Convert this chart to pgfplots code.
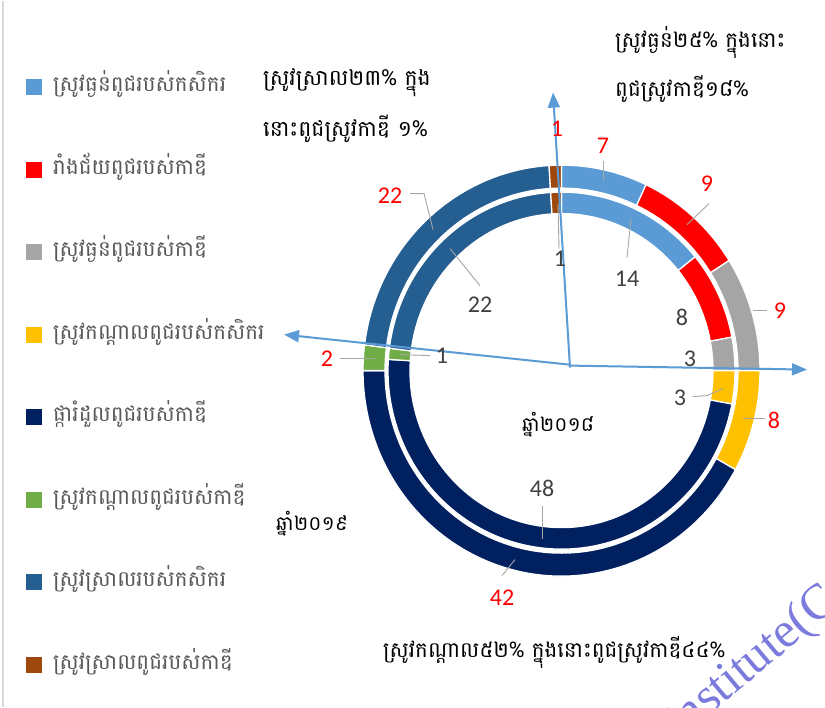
\documentclass[border=0pt]{standalone}
\usepackage{pgfplots}
\pgfplotsset{compat=1.18}
\usepackage{pgfplotstable}
\usepackage{fontspec}
\usetikzlibrary{arrows.meta}
\setmainfont{Carlito}
\newfontfamily\kh[Script=Khmer]{Battambang}
\newfontfamily\wmfont{Liberation Serif}

\definecolor{cA}{HTML}{5B9BD5}
\definecolor{cB}{HTML}{FF0000}
\definecolor{cC}{HTML}{A5A5A5}
\definecolor{cD}{HTML}{FFC000}
\definecolor{cE}{HTML}{002060}
\definecolor{cF}{HTML}{70AD47}
\definecolor{cG}{HTML}{255E91}
\definecolor{cH}{HTML}{9E480E}
\definecolor{arrowblue}{HTML}{5B9BD5}
\definecolor{leadgray}{HTML}{A6A6A6}
\definecolor{lbl}{HTML}{404040}
\definecolor{legtxt}{HTML}{595959}
\definecolor{wm}{RGB}{123,123,222}

% year 2019 (outer ring), percent
\pgfplotstableread{
val col
7 cA
9 cB
9 cC
8 cD
42 cE
2 cF
22 cG
1 cH
}\ringouter
% year 2018 (inner ring), percent
\pgfplotstableread{
val col
14 cA
8 cB
3 cC
3 cD
48 cE
1 cF
22 cG
1 cH
}\ringinner

\def\cx{561.5}
\def\cy{370}

% #1 table, #2 inner x-radius, #3 inner y-radius, #4 outer x-radius, #5 outer y-radius
\newcommand\drawring[5]{%
  \pgfplotstablegetrowsof{#1}%
  \pgfmathtruncatemacro\nrows{\pgfplotsretval-1}%
  \def\cum{0}%
  \pgfplotsforeachungrouped \ri in {0,...,\nrows}{%
    \pgfplotstablegetelem{\ri}{val}\of{#1}\let\segval\pgfplotsretval
    \pgfplotstablegetelem{\ri}{col}\of{#1}\let\segcol\pgfplotsretval
    \pgfmathsetmacro\aS{90-3.6*\cum}%
    \pgfmathsetmacro\aE{90-3.6*(\cum+\segval)}%
    \pgfmathsetmacro\xA{\cx+#4*cos(\aS)}%
    \pgfmathsetmacro\yA{\cy-#5*sin(\aS)}%
    \pgfmathsetmacro\xB{\cx+#2*cos(\aE)}%
    \pgfmathsetmacro\yB{\cy-#3*sin(\aE)}%
    \edef\temp{\noexpand\addplot[fill=\segcol, draw=white, line width=1.3pt, mark=none]
      coordinates {(\xA,\yA)}
      arc[start angle=\aS, end angle=\aE, x radius=#4pt, y radius=#5pt]
      -- (axis cs:\xB,\yB)
      arc[start angle=\aE, end angle=\aS, x radius=#2pt, y radius=#3pt]
      -- cycle;}%
    \temp
    \pgfmathsetmacro\cum{\cum+\segval}%
  }%
}

\newcommand\olab[3]{\node[text=cB, inner sep=0, font=\fontsize{24}{24}\selectfont] at (axis cs:#1,#2) {#3};}
\newcommand\ilab[3]{\node[text=lbl, inner sep=0, font=\fontsize{24}{24}\selectfont] at (axis cs:#1,#2) {#3};}
\newcommand\legitem[3]{%
  \fill[#1] (axis cs:26,#2-8) rectangle (axis cs:42,#2+8);
  \node[anchor=west, inner sep=0, text=legtxt, font=\kh\fontsize{21.5}{24}\selectfont] at (axis cs:53,#2-3) {#3};}

\begin{document}
\begin{tikzpicture}
\begin{axis}[x=1pt, y=1pt, xmin=0, xmax=825, ymin=0, ymax=706,
  y dir=reverse, hide axis, clip=false]
\fill[white] (axis cs:0,0) rectangle (axis cs:825,706);
\draw[gray!30, line width=1.2pt] (axis cs:3,0) -- (axis cs:3,706);

\drawring{\ringouter}{176.5}{182.5}{198.5}{205.5}
\drawring{\ringinner}{151.5}{157}{173.5}{178.5}

% dividing arrows
\draw[arrowblue, line width=2pt, -{Triangle[length=15pt, width=12pt]}] (axis cs:570,367) -- (axis cs:553,92);
\draw[arrowblue, line width=2pt, -{Triangle[length=15pt, width=12pt]}] (axis cs:570,365) -- (axis cs:807,369);
\draw[arrowblue, line width=2pt, -{Triangle[length=15pt, width=12pt]}] (axis cs:569,364) -- (axis cs:284,334);

% leader lines
\draw[leadgray, line width=0.9pt] (axis cs:603,160) -- (axis cs:603,180);
\draw[leadgray, line width=0.9pt] (axis cs:709,203) -- (axis cs:687,224);
\draw[leadgray, line width=0.9pt] (axis cs:767,310) -- (axis cs:753,310);
\draw[leadgray, line width=0.9pt] (axis cs:765,418) -- (axis cs:743,418);
\draw[leadgray, line width=0.9pt] (axis cs:502,575) -- (axis cs:515,559);
\draw[leadgray, line width=0.9pt] (axis cs:340,358) -- (axis cs:375,358);
\draw[leadgray, line width=0.9pt] (axis cs:410,193) -- (axis cs:424,193) -- (axis cs:433,229);
\draw[leadgray, line width=0.9pt] (axis cs:559,248) -- (axis cs:558,203);
\draw[leadgray, line width=0.9pt] (axis cs:627,257) -- (axis cs:631,218);
\draw[leadgray, line width=0.9pt] (axis cs:693,396) -- (axis cs:707,395) -- (axis cs:723,388);
\draw[leadgray, line width=0.9pt] (axis cs:542,505) -- (axis cs:542,538);
\draw[leadgray, line width=0.9pt] (axis cs:430,355) -- (axis cs:400,354);
\draw[leadgray, line width=0.9pt] (axis cs:480,285) -- (axis cs:450,248);

% outer ring labels (2019)
\olab{557}{128}{1}
\olab{603}{145}{7}
\olab{707}{183}{9}
\olab{780}{310}{9}
\olab{774}{420}{8}
\olab{502}{597}{42}
\olab{327}{358}{2}
\olab{390}{195}{22}
% inner ring labels (2018)
\ilab{560}{258}{1}
\ilab{627}{278}{14}
\ilab{682}{317}{8}
\ilab{690}{358}{3}
\ilab{680}{397}{3}
\ilab{542}{488}{48}
\ilab{442}{355}{1}
\ilab{480}{304}{22}

% annotations
\node[anchor=west, inner sep=0, font=\kh\fontsize{22}{24}\selectfont] at (axis cs:263,82) {ស្រូវស្រាល២៣\% ក្នុង};
\node[anchor=west, inner sep=0, font=\kh\fontsize{22}{24}\selectfont] at (axis cs:263,128) {នោះពូជស្រូវកាឌី ១\%};
\node[anchor=west, inner sep=0, font=\kh\fontsize{21.5}{24}\selectfont] at (axis cs:615,42) {ស្រូវធ្ងន់២៥\% ក្នុងនោះ};
\node[anchor=west, inner sep=0, font=\kh\fontsize{21.5}{24}\selectfont] at (axis cs:615,88) {ពូជស្រូវកាឌី១៨\%};
\node[anchor=west, inner sep=0, font=\kh\fontsize{21.5}{24}\selectfont] at (axis cs:383,652) {ស្រូវកណ្ដាល៥២\% ក្នុងនោះពូជស្រូវកាឌី៤៤\%};
\node[inner sep=0, font=\kh\fontsize{20}{22}\selectfont] at (axis cs:558,424) {ឆ្នាំ២០១៨};
\node[inner sep=0, font=\kh\fontsize{20}{22}\selectfont] at (axis cs:312,523) {ឆ្នាំ២០១៩};

% legend
\legitem{cA}{86}{ស្រូវធ្ងន់ពូជរបស់កសិករ}
\legitem{cB}{169}{រាំងជ័យពូជរបស់កាឌី}
\legitem{cC}{251}{ស្រូវធ្ងន់ពូជរបស់កាឌី}
\legitem{cD}{334}{ស្រូវកណ្ដាលពូជរបស់កសិករ}
\legitem{cE}{416}{ផ្ការំដួលពូជរបស់កាឌី}
\legitem{cF}{499}{ស្រូវកណ្ដាលពូជរបស់កាឌី}
\legitem{cG}{581}{ស្រូវស្រាលរបស់កសិករ}
\legitem{cH}{664}{ស្រូវស្រាលពូជរបស់កាឌី}

% watermark
\node[overlay, anchor=base west, rotate=40, inner sep=0, text=wm, font=\wmfont\fontsize{50}{50}\selectfont] at (axis cs:677,742) {Institute(CARDI)};
\end{axis}
\end{tikzpicture}
\end{document}
